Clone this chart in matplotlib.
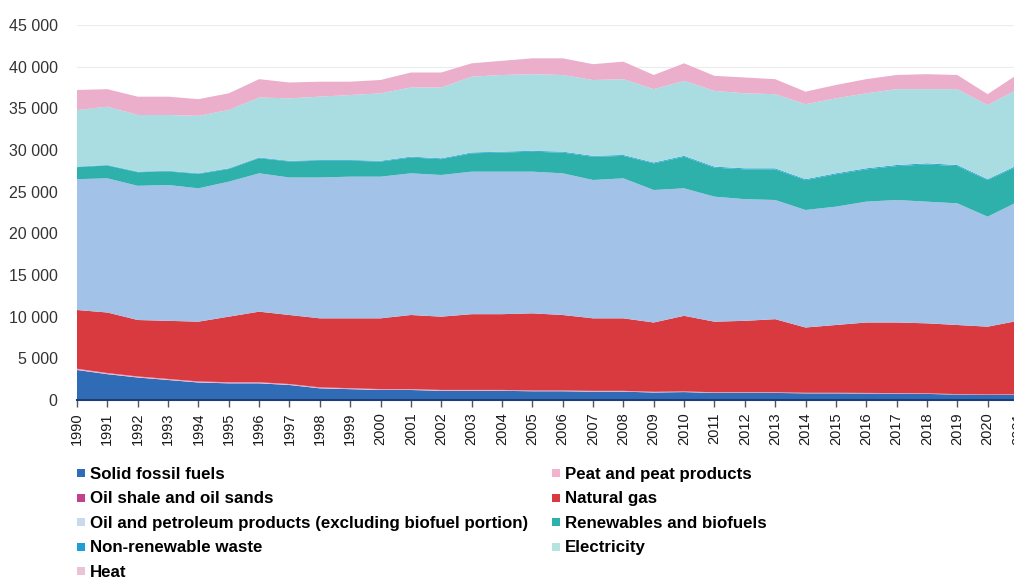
import matplotlib
matplotlib.use("Agg")
import matplotlib.pyplot as plt
from matplotlib.lines import Line2D
from matplotlib.ticker import FuncFormatter, MultipleLocator

years = list(range(1990, 2022))

solid_fossil = [3600, 3100, 2700, 2400, 2100, 2000, 2000, 1800, 1400, 1300, 1200, 1200, 1100, 1100, 1100, 1050,
                1050, 1000, 1000, 900, 950, 850, 850, 850, 800, 800, 780, 760, 730, 650, 600, 620]
peat = [120, 110, 100, 100, 100, 100, 100, 90, 90, 90, 80, 80, 80, 80, 80, 70,
        70, 70, 70, 60, 60, 60, 60, 60, 50, 50, 50, 50, 50, 40, 40, 40]
oil_shale = [30, 30, 30, 30, 30, 30, 30, 30, 30, 30, 30, 30, 30, 30, 30, 30,
             30, 30, 30, 30, 20, 20, 20, 20, 20, 20, 20, 20, 20, 20, 20, 20]
natural_gas = [7050, 7260, 6770, 6970, 7170, 7870, 8470, 8280, 8280, 8380, 8490, 8890, 8790, 9090, 9090, 9250,
               9050, 8700, 8700, 8310, 9070, 8470, 8570, 8770, 7830, 8130, 8450, 8470, 8400, 8290, 8140, 8820]
oil_petroleum = [15700, 16100, 16100, 16300, 16000, 16200, 16600, 16500, 16900, 17000, 17000, 17000, 17000, 17100,
                 17100, 17000, 17000, 16600, 16800, 15900, 15300, 15000, 14600, 14300, 14100, 14200, 14500, 14700,
                 14600, 14600, 13200, 14300]
renewables = [1440, 1540, 1630, 1630, 1730, 1520, 1820, 1920, 2010, 1910, 1810, 1900, 1900, 2200, 2300, 2390,
              2490, 2790, 2690, 3190, 3780, 3480, 3580, 3680, 3580, 3880, 3870, 4070, 4470, 4470, 4380, 4270]
nonrenewable_waste = [60, 60, 70, 70, 70, 80, 80, 80, 90, 90, 90, 100, 100, 100, 100, 110,
                      110, 110, 110, 110, 120, 120, 120, 120, 120, 120, 130, 130, 130, 130, 120, 130]
electricity = [6800, 7000, 6800, 6700, 6900, 7000, 7200, 7500, 7600, 7800, 8100, 8300, 8500, 9100, 9200, 9200,
               9200, 9100, 9100, 8800, 9000, 9100, 9000, 8900, 9000, 9000, 9000, 9100, 8900, 9100, 8900, 9100]
heat = [2400, 2100, 2200, 2200, 2000, 2000, 2200, 1900, 1800, 1600, 1600, 1800, 1800, 1600, 1700, 1900,
        2000, 1900, 2100, 1700, 2100, 1800, 1900, 1800, 1500, 1600, 1700, 1700, 1800, 1700, 1300, 1800]

labels = ["Solid fossil fuels", "Peat and peat products", "Oil shale and oil sands", "Natural gas",
          "Oil and petroleum products (excluding biofuel portion)", "Renewables and biofuels",
          "Non-renewable waste", "Electricity", "Heat"]
series = [solid_fossil, peat, oil_shale, natural_gas, oil_petroleum, renewables,
          nonrenewable_waste, electricity, heat]
colors = ["#2f6cb5", "#f2b3cd", "#c4408f", "#d83a3f", "#a3c2e8", "#2fb1ab",
          "#2aa5db", "#a9dde1", "#ebaecb"]
legend_colors = ["#2f6cb5", "#f2b3cd", "#c4408f", "#d83a3f", "#c9d9f0", "#2fb1ab",
                 "#1f9fd6", "#b5e3df", "#ebc3d6"]

plt.rcParams['font.family'] = ['Liberation Sans', 'DejaVu Sans']

fig = plt.figure(figsize=(10.14, 5.81), dpi=100)
ax = fig.add_axes([77 / 1014, 181 / 581, 941 / 1014, 375 / 581])

ax.stackplot(years, *series, colors=colors, linewidth=0, zorder=2)

ax.set_xlim(1990, 2021)
ax.set_ylim(0, 45000)
ax.yaxis.set_major_locator(MultipleLocator(5000))
ax.yaxis.set_major_formatter(FuncFormatter(lambda v, p: f"{int(v):,}".replace(",", " ")))
ax.grid(axis='y', color='#ececec', linewidth=0.8, zorder=0)
ax.set_axisbelow(True)

ax.set_xticks(years)
ax.set_xticklabels([str(y) for y in years], rotation=90, fontsize=10.5, color='#1a1a1a')
ax.tick_params(axis='x', direction='out', length=5, width=1, color='#555555', pad=4)
ax.tick_params(axis='y', length=0, pad=14, labelsize=11.5, labelcolor='#333333')

for s in ['left', 'right', 'top']:
    ax.spines[s].set_visible(False)
ax.spines['bottom'].set_color('#1e3c78')
ax.spines['bottom'].set_linewidth(1.5)
ax.spines['bottom'].set_zorder(3)

order = [0, 2, 4, 6, 8, 1, 3, 5, 7]
handles = [Line2D([0], [0], marker='s', linestyle='none', markersize=6,
                  markerfacecolor=legend_colors[i], markeredgewidth=0) for i in order]
fig.legend(handles, [labels[i] for i in order], ncol=2, loc='upper left',
           bbox_to_anchor=(76 / 1014, 1 - 467 / 581), frameon=False,
           prop={'weight': 'bold', 'size': 12.2}, handlelength=0.6, handletextpad=0.2,
           labelspacing=0.56, columnspacing=1.4, borderpad=0, borderaxespad=0)

fig.savefig("out.png", dpi=100)
